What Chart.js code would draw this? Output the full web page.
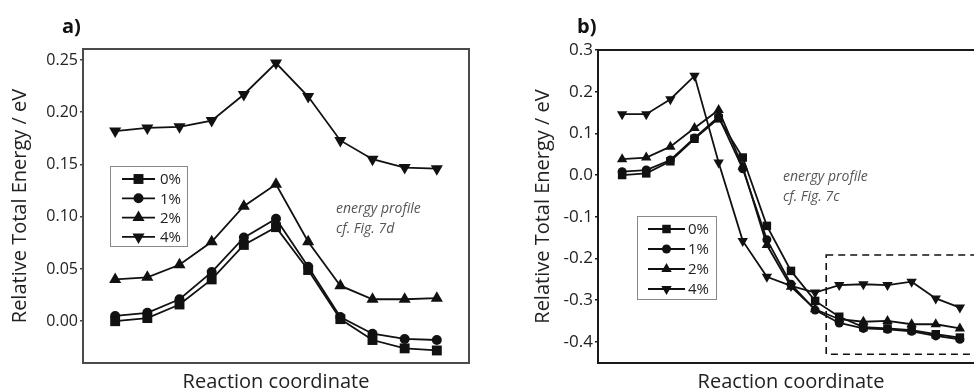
<!DOCTYPE html>
<html>
<head>
<meta charset="utf-8">
<script src="https://cdn.jsdelivr.net/npm/chart.js@4.4.0/dist/chart.umd.min.js"></script>
<style>
  html, body { margin: 0; padding: 0; background: #fff; overflow: hidden; width: 974px; height: 389px; }
  .panel { position: absolute; top: 0; }
  #wrapA { left: 0; }
  #wrapB { left: 490px; }
</style>
</head>
<body>
<div class="panel" id="wrapA"><canvas id="chartA" width="480" height="400"></canvas></div>
<div class="panel" id="wrapB"><canvas id="chartB" width="500" height="400"></canvas></div>
<script>
/* strain series, two reaction paths */
const seriesNames = ['0%', '1%', '2%', '4%'];
const markerStyles = ['rect', 'circle', 'triangle', 'triangle'];
const markerRotation = [0, 0, 0, 180];

// panel a
const stepsA = [1, 2, 3, 4, 5, 6, 7, 8, 9, 10, 11];
const energyA0 = [0.000, 0.003, 0.016, 0.040, 0.073, 0.090, 0.049, 0.002, -0.018, -0.026, -0.028];
const energyA1 = [0.005, 0.008, 0.021, 0.047, 0.080, 0.098, 0.052, 0.004, -0.012, -0.017, -0.018];
const energyA2 = [0.040, 0.042, 0.054, 0.076, 0.110, 0.131, 0.076, 0.034, 0.021, 0.021, 0.022];
const energyA4 = [0.182, 0.185, 0.186, 0.192, 0.217, 0.247, 0.215, 0.173, 0.155, 0.147, 0.146];
const yTicksA = [0.00, 0.05, 0.10, 0.15, 0.20, 0.25];

// panel b
const stepsB = [1, 2, 3, 4, 5, 6, 7, 8, 9, 10, 11, 12, 13, 14, 15];
const energyB0 = [0.000, 0.004, 0.033, 0.087, 0.136, 0.042, -0.122, -0.230, -0.302, -0.340, -0.365, -0.368, -0.372, -0.382, -0.390];
const energyB1 = [0.008, 0.012, 0.036, 0.089, 0.140, 0.015, -0.155, -0.262, -0.324, -0.355, -0.368, -0.370, -0.375, -0.386, -0.394];
const energyB2 = [0.038, 0.042, 0.068, 0.113, 0.156, 0.020, -0.168, -0.268, -0.322, -0.346, -0.352, -0.350, -0.358, -0.358, -0.368];
const energyB4 = [0.146, 0.146, 0.182, 0.238, 0.030, -0.158, -0.244, -0.266, -0.282, -0.264, -0.262, -0.264, -0.256, -0.296, -0.318];
const yTicksB = [-0.4, -0.3, -0.2, -0.1, 0.0, 0.1, 0.2, 0.3];

const INK = '#111';
const FONT = "'Open Sans', 'DejaVu Sans', sans-serif";

function drawMarker(ctx, style, rotation, r, x, y) {
  ctx.beginPath();
  if (style === 'rect') {
    const s = r / Math.SQRT2;
    ctx.rect(x - s, y - s, 2 * s, 2 * s);
  } else if (style === 'circle') {
    ctx.arc(x, y, r, 0, Math.PI * 2);
  } else {
    let rad = rotation * Math.PI / 180;
    ctx.moveTo(x + Math.sin(rad) * r, y - Math.cos(rad) * r);
    rad += Math.PI * 2 / 3;
    ctx.lineTo(x + Math.sin(rad) * r, y - Math.cos(rad) * r);
    rad += Math.PI * 2 / 3;
    ctx.lineTo(x + Math.sin(rad) * r, y - Math.cos(rad) * r);
    ctx.closePath();
  }
  ctx.fill();
}

function makeDatasets(steps, series, radii) {
  return series.map((vals, i) => ({
    label: seriesNames[i],
    data: vals.map((v, k) => ({ x: steps[k], y: v })),
    borderColor: INK,
    backgroundColor: INK,
    borderWidth: 1.8,
    pointStyle: markerStyles[i],
    pointRotation: markerRotation[i],
    pointRadius: radii[i],
    pointBorderWidth: 0,
    tension: 0,
  }));
}

// frame, panel letter, inset legend, notes, dashed box
function extrasPlugin(cfg) {
  return {
    id: 'extras',
    afterDraw(chart) {
      const ctx = chart.ctx;
      const a = chart.chartArea;
      ctx.save();
      ctx.strokeStyle = cfg.frameColor;
      ctx.lineWidth = 2;
      ctx.strokeRect(a.left, a.top, a.right - a.left, a.bottom - a.top);

      ctx.fillStyle = INK;
      ctx.font = "bold 20px " + FONT;
      ctx.textBaseline = 'alphabetic';
      ctx.textAlign = 'left';
      ctx.fillText(cfg.letter, cfg.letterX, 33);

      // inset legend
      const L = cfg.legend;
      ctx.strokeStyle = '#888';
      ctx.lineWidth = 1;
      ctx.strokeRect(L.x + 0.5, L.y + 0.5, L.w, L.h);
      ctx.font = "15px " + FONT;
      ctx.textBaseline = 'middle';
      seriesNames.forEach((name, i) => {
        const ry = L.y + L.row0 + i * L.rowGap;
        ctx.strokeStyle = INK;
        ctx.lineWidth = 1.8;
        ctx.beginPath();
        ctx.moveTo(L.x + L.line0, ry);
        ctx.lineTo(L.x + L.line1, ry);
        ctx.stroke();
        ctx.fillStyle = INK;
        drawMarker(ctx, markerStyles[i], markerRotation[i], cfg.radii[i], L.x + (L.line0 + L.line1) / 2, ry);
        ctx.fillStyle = '#222';
        ctx.fillText(name, L.x + L.text, ry + 1);
      });

      // notes
      ctx.fillStyle = '#555';
      ctx.font = "italic 14px " + FONT;
      ctx.textBaseline = 'middle';
      cfg.notes.forEach(n => ctx.fillText(n.text, n.x, n.y));

      // dashed box (data units)
      if (cfg.box) {
        const xs = chart.scales.x, ys = chart.scales.y;
        const x0 = xs.getPixelForValue(cfg.box.x0);
        const x1 = xs.getPixelForValue(cfg.box.x1);
        const y0 = ys.getPixelForValue(cfg.box.y0);
        const y1 = ys.getPixelForValue(cfg.box.y1);
        ctx.strokeStyle = INK;
        ctx.lineWidth = 1.6;
        ctx.setLineDash([7, 5]);
        ctx.strokeRect(x0, y0, x1 - x0, y1 - y0);
        ctx.setLineDash([]);
      }
      ctx.restore();
    }
  };
}

function makeChart(id, opts) {
  return new Chart(document.getElementById(id), {
    type: 'line',
    data: { datasets: makeDatasets(opts.steps, opts.series, opts.radii) },
    options: {
      responsive: false,
      animation: false,
      layout: { padding: { top: opts.top, right: opts.right, left: 0, bottom: 0 } },
      plugins: { legend: { display: false }, tooltip: { enabled: false } },
      scales: {
        x: {
          type: 'linear',
          min: 0,
          max: opts.xMax,
          grid: { display: false },
          border: { display: true, color: opts.frameColor, width: 2 },
          ticks: { display: false },
          title: {
            display: true,
            text: 'Reaction coordinate',
            color: '#222',
            font: { family: FONT, size: 20 },
            padding: { top: 0, bottom: 6 }
          },
          afterFit: s => { s.height = 37; }
        },
        y: {
          min: opts.yMin,
          max: opts.yMax,
          afterBuildTicks: s => { s.ticks = opts.yTicks.map(v => ({ value: v })); },
          grid: { display: true, drawOnChartArea: false, drawTicks: true, tickLength: opts.tickLen, color: opts.frameColor, lineWidth: 1.5 },
          border: { display: true, color: opts.frameColor, width: 2 },
          ticks: {
            color: '#222',
            padding: 2,
            font: { family: FONT, size: opts.tickSize },
            callback: v => v.toFixed(opts.decimals)
          },
          title: {
            display: true,
            text: 'Relative Total Energy / eV',
            color: '#222',
            font: { family: FONT, size: 20 },
            padding: { top: opts.yTitlePad, bottom: 0 }
          },
          afterFit: s => { s.width = opts.yWidth; }
        }
      }
    },
    plugins: [extrasPlugin(opts)]
  });
}

makeChart('chartA', {
  steps: stepsA,
  series: [energyA0, energyA1, energyA2, energyA4],
  radii: [7, 5, 7, 7],
  xMax: 12, yMin: -0.040, yMax: 0.2605, yTicks: yTicksA, decimals: 2,
  top: 49, right: 11, yWidth: 83, yTitlePad: 8, tickSize: 16, tickLen: 3,
  frameColor: '#4a4a4a',
  letter: 'a)', letterX: 62,
  legend: { x: 110, y: 166, w: 77, h: 80, row0: 13, rowGap: 19.3, line0: 12, line1: 45, text: 50 },
  notes: [{ text: 'energy profile', x: 336, y: 209 }, { text: 'cf. Fig. 7d', x: 336, y: 229 }],
  box: null
});

makeChart('chartB', {
  steps: stepsB,
  series: [energyB0, energyB1, energyB2, energyB4],
  radii: [6, 4.5, 6, 6],
  xMax: 16, yMin: -0.451, yMax: 0.30, yTicks: yTicksB, decimals: 1,
  top: 50, right: 5, yWidth: 108, yTitlePad: 41, tickSize: 17, tickLen: 3,
  frameColor: '#1a1a1a',
  letter: 'b)', letterX: 87,
  legend: { x: 147, y: 216, w: 79, h: 83, row0: 13, rowGap: 20, line0: 11, line1: 48, text: 51 },
  notes: [{ text: 'energy profile', x: 293, y: 177 }, { text: 'cf. Fig. 7c', x: 293, y: 197 }],
  box: { x0: 9.46, x1: 16.6, y0: -0.192, y1: -0.430 }
});
</script>
</body>
</html>
